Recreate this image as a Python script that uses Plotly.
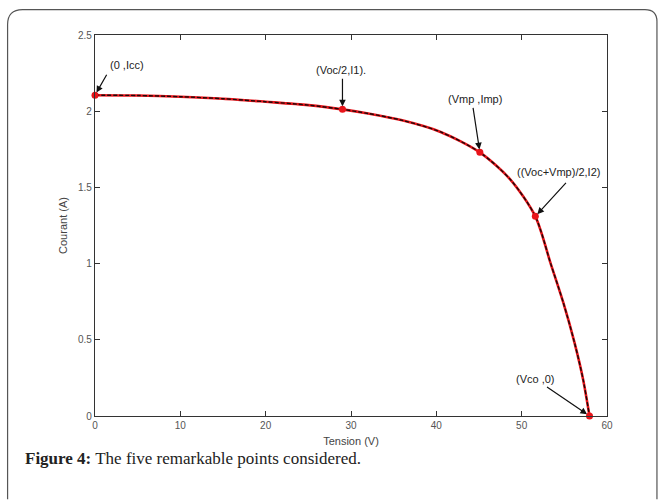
import plotly.graph_objects as go

# Curve
tension = [0, 5, 10, 15, 20, 25, 29, 32, 36, 40.5, 45.1, 48.7, 51.6, 53.4, 54.9, 56.2, 57.2, 57.95]
courant = [2.105, 2.103, 2.095, 2.082, 2.062, 2.04, 2.012, 1.985, 1.94, 1.864, 1.73, 1.55, 1.31, 1.0, 0.74, 0.48, 0.24, 0.0]

# Five remarkable points
pt_labels = ["(0 ,Icc)", "(Voc/2,I1).", "(Vmp ,Imp)", "((Voc+Vmp)/2,I2)", "(Vco ,0)"]
pt_v = [0, 29, 45.1, 51.6, 57.95]
pt_i = [2.105, 2.012, 1.73, 1.31, 0.0]

x_ticks = [0, 10, 20, 30, 40, 50, 60]
y_ticks = [0, 0.5, 1, 1.5, 2, 2.5]
y_ticklabels = ["0", "0.5", "1", "1.5", "2", "2.5"]

W, H = 658, 500
L, R, T, B = 94.5, 51, 34.5, 83.5
pw, ph = W - L - R, H - T - B

def px(x):
    return (x - L) / pw

def py(y):
    return (H - B - y) / ph

fig = go.Figure()
fig.add_trace(go.Scatter(x=tension, y=courant, mode="lines",
                         line=dict(color="#e8141a", width=2.6, shape="spline", smoothing=0.8),
                         hoverinfo="skip", showlegend=False))
fig.add_trace(go.Scatter(x=tension, y=courant, mode="lines",
                         line=dict(color="#1a0a0a", width=1.4, dash="4px,2px", shape="spline", smoothing=0.8),
                         hoverinfo="skip", showlegend=False))
fig.add_trace(go.Scatter(x=pt_v, y=pt_i, mode="markers", marker=dict(color="#e8141a", size=7),
                         cliponaxis=False, showlegend=False))

# text positions (pixel offsets from point to text centre) and arrow tails
text_off = [(31.5, -30), (-1.5, -39), (-5, -53), (23, -44), (-54, -37.5)]
arrow_tail = [(12.5, -22), (0, -32), (-7, -46), (32, -35), (-44, -30)]
for lab, v, i, (tx, ty), (ax, ay) in zip(pt_labels, pt_v, pt_i, text_off, arrow_tail):
    fig.add_annotation(x=v, y=i, xref="x", yref="y", text="", showarrow=True,
                       ax=ax, ay=ay, arrowhead=2, arrowsize=1.1, arrowwidth=1.2,
                       arrowcolor="#111", standoff=3)
    fig.add_annotation(x=v, y=i, xref="x", yref="y", text=lab, showarrow=True,
                       ax=tx, ay=ty, arrowcolor="rgba(0,0,0,0)", arrowwidth=0.1,
                       font=dict(family="Liberation Sans, Arial", size=11, color="#222"))

# outer rounded frame
path = (f"M {px(7)},{py(500)} L {px(7)},{py(24)} Q {px(7)},{py(9)} {px(22)},{py(9)} "
        f"L {px(645)},{py(9)} Q {px(657)},{py(9)} {px(657)},{py(21)} L {px(657)},{py(500)}")
fig.add_shape(type="path", path=path, xref="paper", yref="paper",
              line=dict(color="#555", width=1.2), layer="below")

fig.add_annotation(x=px(22), y=py(459), xref="paper", yref="paper", xanchor="left", yanchor="middle",
                   showarrow=False,
                   text="<b>Figure 4:</b> The five remarkable points considered.",
                   font=dict(family="Liberation Serif, Times New Roman", size=17, color="#222"))

axis_common = dict(showgrid=False, zeroline=False, showline=True, linecolor="#333", linewidth=1.3,
                   mirror="ticks", ticks="inside", ticklen=5, tickcolor="#333", tickwidth=1,
                   tickfont=dict(family="Liberation Sans, Arial", size=10, color="#555"))

fig.update_layout(
    width=W, height=H,
    margin=dict(l=L, r=R, t=T, b=B),
    paper_bgcolor="white", plot_bgcolor="white",
    xaxis=dict(range=[0, 60], tickvals=x_ticks, ticktext=[str(t) for t in x_ticks],
               title=dict(text="Tension (V)", font=dict(family="Liberation Sans, Arial", size=11, color="#444"), standoff=7),
               **axis_common),
    yaxis=dict(range=[0, 2.5], tickvals=y_ticks, ticktext=y_ticklabels,
               title=dict(text="Courant (A)", font=dict(family="Liberation Sans, Arial", size=11, color="#444"), standoff=8),
               **axis_common),
)

fig.write_html("out.html", config={"displayModeBar": False},
               post_script="document.body.style.margin='0';document.body.style.overflow='hidden';")
